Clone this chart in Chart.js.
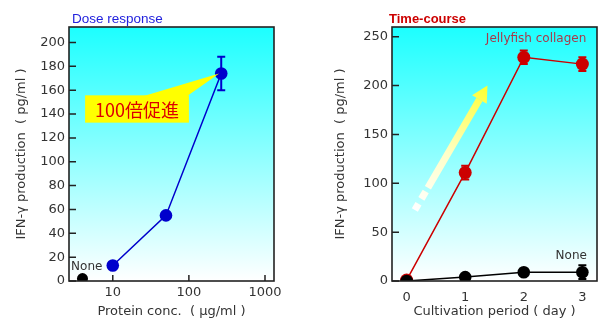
<!DOCTYPE html>
<html>
<head>
<meta charset="utf-8">
<script src="https://cdn.jsdelivr.net/npm/chart.js@4.4.0/dist/chart.umd.min.js"></script>
<style>
  html, body { margin: 0; padding: 0; background: #fff; }
  #wrap { position: relative; width: 607px; height: 321px; }
  #dose { position: absolute; left: 0; top: 0; }
  #time { position: absolute; left: 300px; top: 0; }
</style>
</head>
<body>
<div id="wrap">
  <canvas id="dose" width="300" height="321"></canvas>
  <canvas id="time" width="307" height="321"></canvas>
</div>
<script>
// dose response (left)
const doseX = [10, 50, 266];
const doseY = [13, 55, 174];
const doseErr = [0, 0, 14];
const doseNoneX = [4];
const doseNoneY = [2];
const doseXTicks = [10, 100, 1000];
const doseYTicks = [0, 20, 40, 60, 80, 100, 120, 140, 160, 180, 200];

// time course (right)
const days = [0, 1, 2, 3];
const collagenY = [1, 111, 229, 222];
const collagenErr = [0, 7, 7, 7];
const noneY = [0, 4, 9, 9];
const noneErr = [0, 0, 0, 7];
const timeXTicks = [0, 1, 2, 3];
const timeYTicks = [0, 50, 100, 150, 200, 250];

const FONT = 'DejaVu Sans, "Noto Sans CJK JP", sans-serif';
const TXT = '#333333';

const toXY = (xs, ys) => xs.map((x, i) => ({ x: x, y: ys[i] }));

// gradient background, frame and inner tick marks
const framePlugin = {
  id: 'frame',
  beforeDraw(chart) {
    const { ctx, chartArea: a } = chart;
    const g = ctx.createLinearGradient(0, a.top, 0, a.bottom);
    g.addColorStop(0, '#1cffff');
    g.addColorStop(1, '#ffffff');
    ctx.save();
    ctx.fillStyle = g;
    ctx.fillRect(a.left, a.top, a.width, a.height);
    ctx.restore();
  },
  afterDraw(chart, args, opts) {
    const { ctx, chartArea: a, scales } = chart;
    ctx.save();
    ctx.strokeStyle = '#222';
    ctx.lineWidth = 1.5;
    ctx.beginPath();
    if (opts.xTicks) {
      scales.x.ticks.forEach(t => {
        const px = scales.x.getPixelForValue(t.value);
        ctx.moveTo(px, a.bottom);
        ctx.lineTo(px, a.bottom - 6);
      });
    }
    scales.y.ticks.forEach(t => {
      const py = scales.y.getPixelForValue(t.value);
      ctx.moveTo(a.left, py);
      ctx.lineTo(a.left + 7, py);
    });
    ctx.stroke();
    ctx.lineWidth = 1.6;
    ctx.strokeRect(a.left, a.top, a.width, a.height);
    ctx.restore();
  }
};

// vertical error bars from dataset.errors
const errorPlugin = {
  id: 'errbars',
  afterDatasetsDraw(chart) {
    const { ctx, scales } = chart;
    chart.data.datasets.forEach((ds, i) => {
      if (!ds.errors) return;
      const meta = chart.getDatasetMeta(i);
      ctx.save();
      ctx.strokeStyle = ds.borderColor;
      ctx.lineWidth = 2;
      meta.data.forEach((pt, j) => {
        const e = ds.errors[j];
        if (!e) return;
        const v = ds.data[j].y;
        const top = scales.y.getPixelForValue(v + e);
        const bot = scales.y.getPixelForValue(v - e);
        ctx.beginPath();
        ctx.moveTo(pt.x, top); ctx.lineTo(pt.x, bot);
        ctx.moveTo(pt.x - 4, top); ctx.lineTo(pt.x + 4, top);
        ctx.moveTo(pt.x - 4, bot); ctx.lineTo(pt.x + 4, bot);
        ctx.stroke();
      });
      ctx.restore();
    });
  }
};

// titles, labels, callout and arrow
const notePlugin = {
  id: 'notes',
  afterDatasetsDraw(chart, args, opts) {
    const { ctx, scales, chartArea: a } = chart;
    const X = v => scales.x.getPixelForValue(v);
    const Y = v => scales.y.getPixelForValue(v);
    ctx.save();
    if (opts.callout) {
      const c = opts.callout;
      ctx.fillStyle = '#ffff00';
      ctx.beginPath();
      ctx.moveTo(X(c.wedge[0]), Y(c.box[1]) + 1);
      ctx.lineTo(X(c.wedge[1]), Y(c.box[1]) + 1);
      ctx.lineTo(X(c.tip[0]), Y(c.tip[1]));
      ctx.closePath();
      ctx.fill();
      const x0 = X(c.box[0]), x1 = X(c.box[2]);
      const y0 = Y(c.box[1]), y1 = Y(c.box[3]);
      ctx.fillRect(x0, y0, x1 - x0, y1 - y0);
      ctx.fillStyle = '#dd0000';
      ctx.font = '18px "Noto Sans CJK JP", sans-serif';
      ctx.textAlign = 'center';
      ctx.textBaseline = 'middle';
      ctx.fillText(c.text, (x0 + x1) / 2, (y0 + y1) / 2 + 1);
    }
    if (opts.arrow) {
      const r = opts.arrow;
      const p0 = { x: X(r.from[0]), y: Y(r.from[1]) };
      const p1 = { x: X(r.to[0]), y: Y(r.to[1]) };
      const dx = p1.x - p0.x, dy = p1.y - p0.y;
      const len = Math.hypot(dx, dy);
      const u = { x: dx / len, y: dy / len };
      const n = { x: -u.y, y: u.x };
      const at = t => ({ x: p0.x + dx * t, y: p0.y + dy * t });
      const g = ctx.createLinearGradient(p0.x, p0.y, p1.x, p1.y);
      g.addColorStop(0, '#ffffff');
      g.addColorStop(0.45, '#ffffc8');
      g.addColorStop(1, '#ffff30');
      ctx.fillStyle = g;
      const w = 3.5, hw = 8.5, hl = 16;
      const bar = (t0, t1) => {
        const s = at(t0), e = at(t1);
        ctx.beginPath();
        ctx.moveTo(s.x + n.x * w, s.y + n.y * w);
        ctx.lineTo(e.x + n.x * w, e.y + n.y * w);
        ctx.lineTo(e.x - n.x * w, e.y - n.y * w);
        ctx.lineTo(s.x - n.x * w, s.y - n.y * w);
        ctx.closePath();
        ctx.fill();
      };
      bar(0, 0.05);
      bar(0.09, 0.15);
      const tb = 1 - hl / len;
      bar(0.18, tb);
      const b = at(tb);
      ctx.beginPath();
      ctx.moveTo(b.x + n.x * hw, b.y + n.y * hw);
      ctx.lineTo(p1.x, p1.y);
      ctx.lineTo(b.x - n.x * hw, b.y - n.y * hw);
      ctx.closePath();
      ctx.fill();
    }
    ctx.textAlign = 'center';
    ctx.textBaseline = 'middle';
    (opts.labels || []).forEach(l => {
      ctx.fillStyle = l.color;
      ctx.font = l.font;
      ctx.fillText(l.text, X(l.x), Y(l.y));
    });
    if (opts.title) {
      ctx.textAlign = 'left';
      ctx.textBaseline = 'alphabetic';
      ctx.fillStyle = opts.title.color;
      ctx.font = opts.title.font;
      ctx.fillText(opts.title.text, a.left + opts.title.dx, 23);
    }
    ctx.restore();
  }
};

function axes(xType, xMin, xMax, xTicks, yMax, yTicks, xTitle, yWidth, xPad, yTitlePad) {
  return {
    x: {
      type: xType,
      min: xMin,
      max: xMax,
      afterBuildTicks: s => { s.ticks = xTicks.map(v => ({ value: v })); },
      afterFit: s => { s.height = 40; },
      grid: { display: false, drawTicks: false },
      border: { display: false },
      ticks: {
        color: TXT,
        font: { family: FONT, size: 13 },
        padding: xPad,
        maxRotation: 0,
        autoSkip: false,
        callback: v => String(v)
      },
      title: {
        display: true,
        text: xTitle,
        color: TXT,
        font: { family: FONT, size: 13 },
        padding: { top: 0, bottom: 2 }
      }
    },
    y: {
      min: 0,
      max: yMax,
      afterBuildTicks: s => { s.ticks = yTicks.map(v => ({ value: v })); },
      afterFit: s => { s.width = yWidth; },
      grid: { display: false, drawTicks: false },
      border: { display: false },
      ticks: {
        color: TXT,
        font: { family: FONT, size: 13 },
        padding: 4,
        autoSkip: false
      },
      title: {
        display: true,
        text: 'IFN-γ production  ( pg/ml )',
        color: TXT,
        font: { family: FONT, size: 13 },
        padding: { top: yTitlePad, bottom: 0 }
      }
    }
  };
}

new Chart(document.getElementById('dose'), {
  type: 'scatter',
  data: {
    datasets: [
      {
        data: toXY(doseX, doseY),
        errors: doseErr,
        showLine: true,
        borderColor: '#0000cc',
        backgroundColor: '#0000cc',
        borderWidth: 1.5,
        pointRadius: 6.3,
        pointBorderWidth: 0
      },
      {
        data: toXY(doseNoneX, doseNoneY),
        borderColor: '#000',
        backgroundColor: '#000',
        pointRadius: 5.5,
        pointBorderWidth: 0
      }
    ]
  },
  options: {
    responsive: false,
    animation: false,
    layout: { padding: { top: 27, right: 26, left: 0, bottom: 0 } },
    scales: axes('logarithmic', 2.66, 1313, doseXTicks, 213, doseYTicks,
      'Protein conc.  ( μg/ml )', 69, 4, 14),
    plugins: {
      legend: { display: false },
      tooltip: { enabled: false },
      frame: { xTicks: true },
      notes: {
        title: { text: 'Dose response', color: '#2222dd', font: '13.5px "Liberation Sans", sans-serif', dx: 3 },
        callout: { text: '100倍促進', box: [4.33, 155.7, 100, 132.8], wedge: [25, 94], tip: [250, 174] },
        labels: [
          { text: 'None', x: 4.55, y: 11.5, color: TXT, font: '12px ' + FONT }
        ]
      }
    }
  },
  plugins: [framePlugin, errorPlugin, notePlugin]
});

new Chart(document.getElementById('time'), {
  type: 'scatter',
  data: {
    datasets: [
      {
        data: toXY(days, noneY),
        errors: noneErr,
        showLine: true,
        borderColor: '#000',
        backgroundColor: '#000',
        borderWidth: 1.5,
        pointRadius: 6.3,
        pointBorderWidth: 0
      },
      {
        data: toXY(days, collagenY),
        errors: collagenErr,
        showLine: true,
        borderColor: '#cc0000',
        backgroundColor: '#cc0000',
        borderWidth: 1.5,
        pointRadius: 6.5,
        pointBorderWidth: 0
      }
    ]
  },
  options: {
    responsive: false,
    animation: false,
    layout: { padding: { top: 27, right: 10, left: 0, bottom: 0 } },
    scales: axes('linear', -0.25, 3.25, timeXTicks, 260, timeYTicks,
      'Cultivation period ( day )', 92, 9, 33),
    plugins: {
      legend: { display: false },
      tooltip: { enabled: false },
      frame: { xTicks: false },
      notes: {
        title: { text: 'Time-course', color: '#cc0000', font: 'bold 13px "Liberation Sans", sans-serif', dx: -3 },
        arrow: { from: [0.14, 72.6], to: [1.38, 200] },
        labels: [
          { text: 'Jellyfish collagen', x: 2.21, y: 248, color: '#a83a4a', font: '12px ' + FONT },
          { text: 'None', x: 2.81, y: 25.4, color: TXT, font: '12px ' + FONT }
        ]
      }
    }
  },
  plugins: [framePlugin, errorPlugin, notePlugin]
});
</script>
</body>
</html>
